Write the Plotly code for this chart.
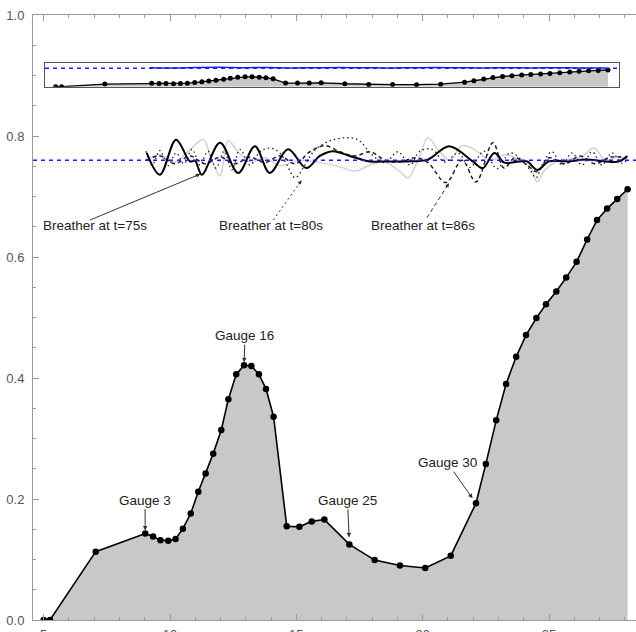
import plotly.graph_objects as go

# ---- bed profile: gauge stations along the flume and bed elevation (m) ----
gauge_x = [5.0, 5.25, 7.06, 9.02, 9.33, 9.62, 9.93, 10.22, 10.51, 10.82, 11.12, 11.41,
           11.71, 12.03, 12.31, 12.62, 12.93, 13.22, 13.52, 13.80, 14.10, 14.62, 15.12,
           15.61, 16.11, 17.10, 18.10, 19.10, 20.10, 21.11, 22.11, 22.50, 22.91, 23.30,
           23.70, 24.09, 24.50, 24.88, 25.29, 25.68, 26.09, 26.51, 26.90, 27.30, 27.70, 28.11]
bed_z = [0.0, 0.0, 0.113, 0.143, 0.138, 0.132, 0.131, 0.134, 0.151, 0.176, 0.212, 0.242,
         0.275, 0.314, 0.365, 0.406, 0.421, 0.420, 0.406, 0.382, 0.336, 0.155, 0.154,
         0.163, 0.166, 0.125, 0.099, 0.090, 0.086, 0.106, 0.193, 0.258, 0.330, 0.390,
         0.435, 0.471, 0.499, 0.522, 0.543, 0.566, 0.592, 0.629, 0.661, 0.680, 0.696, 0.712]

still_water = 0.760

# ---- free-surface snapshots, elevation relative to still water ----
t75_x = [9.08, 9.60, 10.24, 10.79, 10.99, 11.26, 11.98, 12.70, 13.36, 13.95, 14.67, 15.39,
         15.93, 16.45, 17.11, 17.90, 18.63, 19.34, 20.20, 21.05, 21.98, 22.38, 22.84, 23.23,
         23.81, 24.14, 24.54, 25.00, 25.79, 26.45, 27.24, 27.77, 28.10]
t75_eta = [0.012, -0.024, 0.034, -0.002, -0.001, -0.024, 0.029, -0.021, 0.023, -0.021, 0.018,
           -0.013, 0.007, 0.015, 0.007, -0.002, -0.002, -0.002, 0.001, 0.023, -0.002, -0.013,
           0.012, -0.004, -0.002, -0.002, -0.016, -0.002, -0.002, 0.001, -0.002, -0.002, 0.007]

t80_x = [9.05, 9.29, 9.60, 9.92, 10.24, 10.55, 10.87, 11.19, 11.50, 11.82, 12.14, 12.45, 12.77,
         13.17, 13.56, 13.96, 14.35, 14.63, 14.95, 15.34, 15.74, 16.33, 16.93, 17.44, 17.99,
         18.51, 19.02, 19.50, 19.89, 20.37, 20.88, 21.40, 21.87, 22.43, 22.94, 23.46, 23.93,
         24.25, 24.49, 24.72, 25.12, 25.51, 25.91, 26.31, 26.70, 27.10, 27.49, 27.89, 28.09]
t80_eta = [0.015, -0.008, 0.016, -0.009, 0.012, -0.006, 0.018, -0.008, 0.015, -0.013, 0.015,
           -0.016, 0.018, -0.008, 0.014, 0.020, 0.012, -0.008, -0.029, -0.008, 0.017, 0.032,
           0.037, 0.034, 0.009, -0.004, 0.014, -0.008, 0.015, 0.018, -0.003, 0.012, -0.012,
           0.015, -0.014, 0.012, 0.0, -0.016, -0.029, -0.008, 0.014, -0.008, 0.012, -0.008,
           0.014, -0.008, 0.012, -0.005, 0.0]

t86_x = [9.05, 9.60, 10.20, 10.79, 11.39, 11.98, 12.57, 13.17, 13.76, 14.35, 14.95, 15.54,
         16.13, 16.73, 17.32, 17.92, 18.51, 19.10, 19.70, 20.21, 20.92, 21.56, 22.11, 22.78,
         23.22, 23.65, 24.13, 24.53, 25.00, 25.63, 26.23, 26.82, 27.41, 28.09]
t86_eta = [0.0, 0.007, -0.006, 0.007, -0.006, 0.005, -0.006, 0.005, -0.004, 0.007, -0.006,
           0.014, 0.024, 0.014, 0.007, 0.014, 0.0, -0.003, 0.004, -0.004, -0.037, 0.0, -0.036,
           0.029, -0.013, 0.004, -0.008, -0.019, 0.004, -0.006, 0.007, -0.006, 0.005, 0.004]

ref_x = [9.05, 9.60, 10.20, 10.79, 11.31, 11.66, 11.98, 12.30, 12.69, 13.17, 13.76, 14.35,
         15.15, 15.94, 16.73, 17.32, 17.92, 18.51, 19.10, 19.42, 19.82, 20.21, 20.61, 21.08,
         21.56, 22.07, 22.67, 23.26, 23.85, 24.25, 24.53, 24.84, 25.44, 26.23, 26.78, 27.22,
         27.61, 28.09]
ref_eta = [0.0, 0.009, -0.003, 0.017, 0.034, 0.0, -0.026, 0.032, 0.014, -0.003, 0.004, -0.009,
           0.0, -0.004, -0.011, -0.018, -0.008, -0.003, -0.019, -0.029, 0.0, 0.037, 0.017, 0.0,
           0.024, 0.017, 0.0, 0.009, 0.0, -0.009, -0.036, -0.016, 0.0, 0.004, 0.020, 0.0,
           0.004, 0.004]

# ---- overview inset: still-water level and measured surface ----
inset_swl = 0.786
inset_surface_x = [8.95, 9.9, 10.9, 11.9, 12.9, 13.9, 14.9, 15.9, 16.9, 17.9, 18.9, 19.9,
                   20.9, 21.9, 22.9, 23.9, 24.9, 25.9, 26.9, 28.0]
inset_surface_z = [0.81, 0.80, 0.82, 0.83, 0.81, 0.82, 0.80, 0.81, 0.82, 0.81, 0.80, 0.81,
                   0.82, 0.81, 0.80, 0.81, 0.80, 0.81, 0.80, 0.80]

# ---- labels ----
gauge_labels = ["Gauge 3", "Gauge 16", "Gauge 25", "Gauge 30"]
gauge_label_at = [9.02, 12.93, 17.10, 22.11]
gauge_text_xy = [(9.011, 0.198), (12.968, 0.470), (17.025, 0.198), (20.975, 0.260)]
gauge_standoff = [3, 3, 7, 6]

breather_labels = ["Breather at t=75s", "Breather at t=80s", "Breather at t=86s"]
breather_text_xy = [(7.03, 0.652), (14.0, 0.652), (20.03, 0.652)]
breather_pointer = [((6.83, 0.661), (11.19, 0.737)),
                    ((14.09, 0.661), (15.21, 0.727)),
                    ((20.17, 0.665), (21.04, 0.722))]
breather_dash = ["solid", "2px,3px", "4px,3px"]
breather_head = [(-6.5, 2.7), (-4.0, 5.7), (-3.7, 5.9)]

X_RANGE = [4.578, 28.443]
INSET_X_RANGE = [4.556, 28.57]
FONT = "Liberation Sans, Arial, sans-serif"
BED_FILL = "rgb(200,200,200)"
FRAME = "#9a9a9a"

fig = go.Figure()

# bed profile with gauge markers
fig.add_trace(go.Scatter(x=gauge_x, y=bed_z, mode="lines+markers", fill="tozeroy",
                         fillcolor=BED_FILL, line=dict(color="black", width=1.6),
                         marker=dict(color="black", size=6.5)))


def surface(etas):
    return [still_water + e for e in etas]


fig.add_trace(go.Scatter(x=ref_x, y=surface(ref_eta), mode="lines",
                         line=dict(color="rgb(210,210,210)", width=1.5, shape="spline")))
fig.add_trace(go.Scatter(x=t80_x, y=surface(t80_eta), mode="lines",
                         line=dict(color="#222", width=1.3, dash="1.5px,3px", shape="spline")))
fig.add_trace(go.Scatter(x=t86_x, y=surface(t86_eta), mode="lines",
                         line=dict(color="#222", width=1.5, dash="4px,3px", shape="spline")))
fig.add_trace(go.Scatter(x=t75_x, y=surface(t75_eta), mode="lines",
                         line=dict(color="black", width=2, shape="spline")))
fig.add_trace(go.Scatter(x=X_RANGE, y=[still_water, still_water], mode="lines",
                         line=dict(color="#1a1aff", width=1.5, dash="4px,4px")))

# inset overview
fig.add_trace(go.Scatter(x=gauge_x, y=bed_z, mode="lines+markers", fill="tozeroy",
                         fillcolor=BED_FILL, line=dict(color="black", width=1.3),
                         marker=dict(color="black", size=5), xaxis="x2", yaxis="y2"))
fig.add_trace(go.Scatter(x=INSET_X_RANGE, y=[inset_swl, inset_swl], mode="lines",
                         line=dict(color="#1a1aff", width=1.4, dash="4px,4px"),
                         xaxis="x2", yaxis="y2"))
fig.add_trace(go.Scatter(x=inset_surface_x, y=inset_surface_z, mode="lines",
                         line=dict(color="#1a1aff", width=1.5, shape="spline"),
                         xaxis="x2", yaxis="y2"))

annotations = []
for txt, gx, (tx, ty), so in zip(gauge_labels, gauge_label_at, gauge_text_xy, gauge_standoff):
    gy = bed_z[gauge_x.index(gx)]
    annotations.append(dict(x=gx, y=gy, ax=tx, ay=ty, xref="x", yref="y", axref="x",
                            ayref="y", text=txt, showarrow=True, arrowhead=2,
                            arrowsize=0.9, arrowwidth=1, arrowcolor="#333", standoff=so,
                            font=dict(family=FONT, size=13.5, color="#222")))
for txt, (tx, ty) in zip(breather_labels, breather_text_xy):
    annotations.append(dict(x=tx, y=ty, xref="x", yref="y", text=txt, showarrow=False,
                            font=dict(family=FONT, size=13.5, color="#222")))
shapes = []
for ((x0, y0), (x1, y1)), dash, (hx, hy) in zip(breather_pointer, breather_dash, breather_head):
    shapes.append(dict(type="line", x0=x0, y0=y0, x1=x1, y1=y1, xref="x", yref="y",
                       line=dict(color="#333", width=1, dash=dash)))
    annotations.append(dict(x=x1, y=y1, ax=hx, ay=hy, xref="x", yref="y", text="",
                            showarrow=True, arrowhead=2, arrowsize=0.8, arrowwidth=1,
                            arrowcolor="#333"))

tickfont = dict(family=FONT, size=13, color="#555")
fig.update_layout(
    width=636, height=632,
    margin=dict(l=33, r=0, t=15, b=12),
    plot_bgcolor="white", paper_bgcolor="white",
    showlegend=False,
    annotations=annotations,
    shapes=shapes,
    xaxis=dict(range=X_RANGE, showgrid=False, zeroline=False, showline=True,
               linecolor=FRAME, linewidth=1, mirror="ticks", ticks="inside",
               ticklen=6, tickcolor=FRAME, tickvals=[5, 10, 15, 20, 25],
               minor=dict(dtick=1, ticks="inside", ticklen=3, tickcolor=FRAME),
               tickfont=tickfont, ticklabelstandoff=2, automargin=False),
    yaxis=dict(range=[0, 1.0], showgrid=False, zeroline=False, showline=True,
               linecolor=FRAME, linewidth=1, ticks="inside", ticklen=6, tickcolor=FRAME,
               dtick=0.2, tickformat=".1f",
               minor=dict(dtick=0.05, ticks="inside", ticklen=3, tickcolor=FRAME),
               tickfont=tickfont, ticklabelstandoff=5, automargin=False),
    xaxis2=dict(domain=[0.0199, 0.9718], anchor="y2", range=INSET_X_RANGE,
                showgrid=False, zeroline=False, showticklabels=False, ticks="",
                showline=True, mirror=True, linecolor="#555", linewidth=1.2),
    yaxis2=dict(domain=[0.8815, 0.9202], anchor="x2", range=[0, 1.0],
                showgrid=False, zeroline=False, showticklabels=False, ticks="",
                showline=True, mirror=True, linecolor="#555", linewidth=1.2),
)

fig.write_html("out.html")
